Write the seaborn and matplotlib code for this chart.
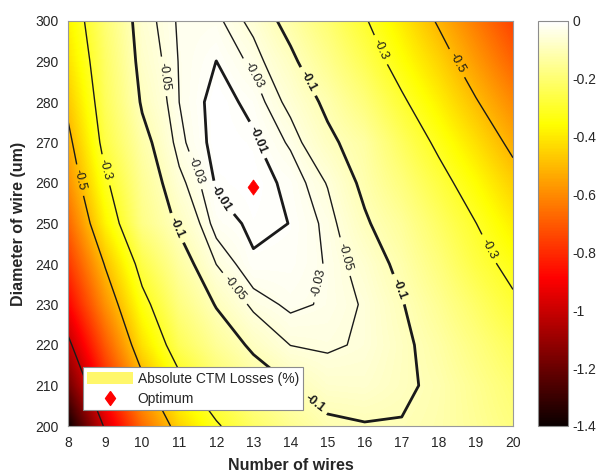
import numpy as np
import matplotlib
matplotlib.use('Agg')
import matplotlib.pyplot as plt
import seaborn as sns
from matplotlib.patches import Patch
from matplotlib.lines import Line2D

# Number of wires (x) and wire diameter in um (y)
wires = [8, 9, 10, 11, 12, 13, 14, 15, 16, 17, 18, 19, 20]
diameters = [200, 210, 220, 230, 240, 250, 260, 270, 280, 290, 300]

# Absolute CTM losses (%), one row per diameter
loss_d200 = [-1.3999,-0.9799,-0.6649,-0.4491,-0.3125,-0.2180,-0.1550,-0.1119,-0.1034,-0.1031,-0.1170,-0.1461,-0.1800]
loss_d210 = [-1.1912,-0.8248,-0.5405,-0.3358,-0.2183,-0.1438,-0.1008,-0.0718,-0.0692,-0.0892,-0.1128,-0.1541,-0.1988]
loss_d220 = [-1.0338,-0.7057,-0.4190,-0.2363,-0.1470,-0.0866,-0.0494,-0.0445,-0.0549,-0.0863,-0.1263,-0.1775,-0.2335]
loss_d230 = [-0.8889,-0.5885,-0.3351,-0.1796,-0.0952,-0.0415,-0.0248,-0.0332,-0.0535,-0.0963,-0.1500,-0.2137,-0.2825]
loss_d240 = [-0.7777,-0.4919,-0.2563,-0.1328,-0.0494,-0.0125,-0.0139,-0.0323,-0.0667,-0.1165,-0.1822,-0.2618,-0.3296]
loss_d250 = [-0.6786,-0.3800,-0.1707,-0.0888,-0.0189,-0.0059,-0.0103,-0.0363,-0.0920,-0.1420,-0.2179,-0.2987,-0.3895]
loss_d260 = [-0.5914,-0.3184,-0.1491,-0.0593,-0.0072,-0.0020,-0.0146,-0.0520,-0.1137,-0.1820,-0.2640,-0.3545,-0.4548]
loss_d270 = [-0.5320,-0.2617,-0.1226,-0.0364,-0.0007,-0.0065,-0.0338,-0.0870,-0.1296,-0.2250,-0.3208,-0.4205,-0.5272]
loss_d280 = [-0.4722,-0.2338,-0.0916,-0.0299,-0.0005,-0.0164,-0.0601,-0.1123,-0.1842,-0.2836,-0.3836,-0.4920,-0.6007]
loss_d290 = [-0.4186,-0.2178,-0.0752,-0.0285,-0.0098,-0.0360,-0.0859,-0.1569,-0.2403,-0.3448,-0.4457,-0.5645,-0.6799]
loss_d300 = [-0.3801,-0.1994,-0.0648,-0.0263,-0.0234,-0.0595,-0.1225,-0.1988,-0.2901,-0.3962,-0.5128,-0.6310,-0.7502]

contour_levels = [-1, -0.5, -0.3, -0.1, -0.05, -0.03, -0.01]
cbar_ticks = [-1.4, -1.2, -1, -0.8, -0.6, -0.4, -0.2, 0]
cbar_ticklabels = ['-1.4', '-1.2', '-1', '-0.8', '-0.6', '-0.4', '-0.2', '0']
opt_wires = [13]
opt_diam = [259]

# label anchor spots along the contours (x, y)
label_spots = [(10.48, 286.2), (11.4, 263), (13.1, 270.6), (12.18, 256.5), (12.9, 286.2),
               (14.4, 284.7), (16.41, 292.8), (18.49, 289.6), (9.0, 263.2), (8.32, 260.7),
               (10.83, 248.4), (12.45, 233.6), (14.98, 234.8), (15.42, 241.7), (16.87, 233.6),
               (19.3, 243.5), (14.6, 205.0)]

Z = np.array([loss_d200, loss_d210, loss_d220, loss_d230, loss_d240, loss_d250,
              loss_d260, loss_d270, loss_d280, loss_d290, loss_d300])

sns.set_theme(style='white')
plt.rcParams['font.family'] = ['Liberation Sans', 'DejaVu Sans']
plt.rcParams['contour.negative_linestyle'] = 'solid'

fig = plt.figure(figsize=(5.99, 4.74), dpi=100)
ax = fig.add_axes([68/599, 1-426/474, 445/599, 405/474])
im = ax.imshow(Z, origin='lower', extent=[7.5, 20.5, 195, 305], aspect='auto',
               cmap='hot', vmin=-1.4, vmax=0, interpolation='bilinear')
lws = [2.0 if lv in (-0.1, -0.01) else 1.0 for lv in contour_levels]
cs = ax.contour(wires, diameters, Z, levels=contour_levels, colors='k',
                linewidths=lws, linestyles='solid')
texts = ax.clabel(cs, manual=label_spots, inline=True, inline_spacing=4, fontsize=9,
                  fmt=lambda v: f'{v:g}')
for t in texts:
    if t.get_text() in ('-0.1', '-0.01'):
        t.set_fontweight('bold')

diamond = [(0, 1), (0.72, 0), (0, -1), (-0.72, 0), (0, 1)]
sns.scatterplot(x=opt_wires, y=opt_diam, marker=diamond, s=120, color='red',
                edgecolor='red', linewidth=0.5, ax=ax, legend=False, zorder=6)

ax.set_xlim(8, 20)
ax.set_ylim(200, 300)
ax.set_xticks(range(8, 21))
ax.set_yticks(range(200, 301, 10))
ax.tick_params(length=0, pad=7, labelsize=10, colors='0.15')
for sp in ax.spines.values():
    sp.set_color('0.6')
    sp.set_linewidth(0.8)
ax.set_xlabel('Number of wires', fontsize=11.5, fontweight='bold', color='0.15', labelpad=6)
ax.set_ylabel('Diameter of wire (um)', fontsize=11.5, fontweight='bold', color='0.15', labelpad=6)

handles = [Patch(facecolor=(1.0, 0.97, 0.42), edgecolor='none'),
           Line2D([], [], marker=diamond, color='red', ls='none', ms=10)]
leg = ax.legend(handles, ['Absolute CTM Losses (%)', 'Optimum'], loc='lower left',
                bbox_to_anchor=(15/445, 16/405), borderaxespad=0, fancybox=False,
                framealpha=1, edgecolor='0.55', fontsize=10, handlelength=3.3,
                handleheight=0.9, borderpad=0.3, labelspacing=0.45, handletextpad=0.35)
leg.get_frame().set_linewidth(0.8)
leg.set_zorder(10)

cax = fig.add_axes([538/599, 1-426/474, 30/599, 405/474])
cb = fig.colorbar(im, cax=cax, ticks=cbar_ticks)
cb.ax.set_yticklabels(cbar_ticklabels)
cb.outline.set_edgecolor('0.55')
cb.outline.set_linewidth(0.8)
cb.ax.tick_params(direction='in', length=4, width=0.6, color='0.25', labelsize=10,
                  labelcolor='0.15', pad=3)

fig.savefig('out.png', dpi=100)
